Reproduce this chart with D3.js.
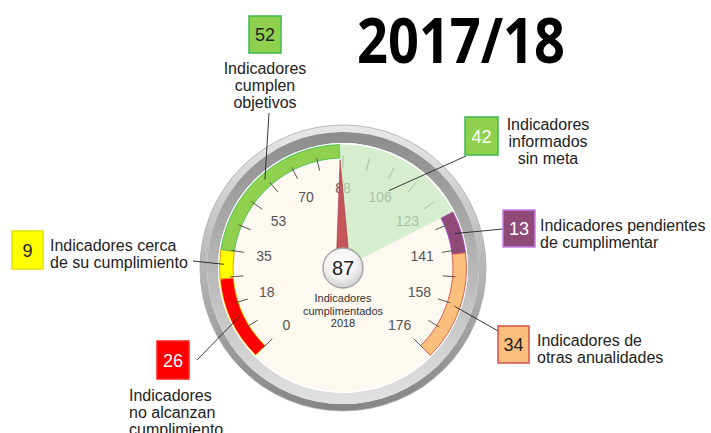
<!DOCTYPE html>
<html>
<head>
<meta charset="utf-8">
<script src="https://cdn.jsdelivr.net/npm/d3@7"></script>
<style>
  body { margin: 0; background: #fff; }
  svg { display: block; }
</style>
</head>
<body>
<div class="gauge-container"></div>
<script>
// data
var categories = [
  ["Indicadores", "no alcanzan", "cumplimiento"],
  ["Indicadores cerca", "de su cumplimiento"],
  ["Indicadores", "cumplen", "objetivos"],
  ["Indicadores", "informados", "sin meta"],
  ["Indicadores pendientes", "de cumplimentar"],
  ["Indicadores de", "otras anualidades"]
];
var values = [26, 9, 52, 42, 13, 34];
var tickLabels = [0, 18, 35, 53, 70, 88, 106, 123, 141, 158, 176];
var needleValue = 87;
var centerLines = ["Indicadores", "cumplimentados", "2018"];
var title = "2017/18";

var colors = ["#ff0000", "#ffff00", "#8fd14f", "#c6eac0", "#904a78", "#fbbf7d"];
var strokes = ["#ffee00", "#f08000", "#3cb94f", "none", "#a24ad0", "#c9423a"];
var boxStrokes = ["#ff2020", "#e8e000", "#3cb94f", "#3cb94f", "#c77ee8", "#d0504a"];
var boxText = ["#fff", "#222", "#222", "#fff", "#fff", "#222"];

// layout of the callouts (box x, y, w, h / text anchor / line start)
var callouts = [
  {box: [157, 341, 32, 38], tx: 129, ty: 395, anchor: "start",  from: [197, 360], r: 114},
  {box: [12, 231, 31, 38],  tx: 50,  ty: 245, anchor: "start",  from: [193, 261], r: 119},
  {box: [249, 16, 32, 37],  tx: 265, ty: 68,  anchor: "middle", from: [269, 113], r: 118},
  {box: [465, 117, 33, 38], tx: 548, ty: 124, anchor: "middle", from: [466, 156], r: 90},
  {box: [503, 210, 32, 37], tx: 540, ty: 225, anchor: "start",  from: [503, 229], r: 117},
  {box: [498, 326, 31, 37], tx: 537, ty: 340, anchor: "start",  from: [498, 331], r: 118}
];

var chart_width = 711;
var chart_height = 433;
var cx = 343, cy = 268;
var font = "'Liberation Sans', Arial, sans-serif";

var total = d3.sum(values);
var ends = d3.cumsum(values);
var starts = ends.map((e, i) => e - values[i]);

// value -> angle (radians, 0 = up, clockwise)
var angle = d3.scaleLinear()
  .domain([0, total])
  .range([-135 * Math.PI / 180, 135 * Math.PI / 180]);

var polar = (a, r) => [cx + r * Math.sin(a), cy - r * Math.cos(a)];

var svg = d3.select('.gauge-container')
  .append('svg')
  .attr('width', chart_width)
  .attr('height', chart_height);

var defs = svg.append('defs');

// bezel: two rings with opposite vertical gradients
var addGrad = (id, top, bottom) => {
  var lg = defs.append('linearGradient')
    .attr('id', id)
    .attr('x1', 0).attr('y1', 0).attr('x2', 0).attr('y2', 1);
  lg.append('stop').attr('offset', 0).attr('stop-color', top);
  lg.append('stop').attr('offset', 1).attr('stop-color', bottom);
};
addGrad('outerRing', '#e8e8e8', '#858585');
addGrad('innerRing', '#8c8c8c', '#e2e2e2');

var knob = defs.append('radialGradient')
  .attr('id', 'knob')
  .attr('cx', '45%').attr('cy', '35%').attr('r', '65%');
knob.append('stop').attr('offset', 0).attr('stop-color', '#ffffff');
knob.append('stop').attr('offset', 0.6).attr('stop-color', '#f2f2f2');
knob.append('stop').attr('offset', 1).attr('stop-color', '#cfcfcf');

var g = svg.append('g').attr('transform', `translate(${cx},${cy})`);

var ring = (r0, r1) => d3.arc().innerRadius(r0).outerRadius(r1)({startAngle: 0, endAngle: 2 * Math.PI});

g.append('path')
  .attr('d', ring(136, 143))
  .attr('fill', 'url(#outerRing)');
g.append('circle')
  .attr('r', 143)
  .attr('fill', 'none')
  .attr('stroke', '#a8a8a8').attr('stroke-width', 0.8);
g.append('path')
  .attr('d', ring(125, 136))
  .attr('fill', 'url(#innerRing)');

// face
g.append('circle')
  .attr('r', 125)
  .attr('fill', '#ffffff');
g.append('circle')
  .attr('r', 123.5)
  .attr('fill', '#fdf8f0');

var bandArc = d3.arc().innerRadius(110).outerRadius(123.5);

// coloured bands (all but "sin meta")
g.selectAll('path.band')
  .data(values.map((v, i) => ({i: i, s: starts[i], e: ends[i]})).filter(d => d.i !== 3))
  .enter()
  .append('path')
  .attr('class', 'band')
  .attr('d', d => bandArc({startAngle: angle(d.s), endAngle: angle(d.e)}))
  .attr('fill', d => colors[d.i])
  .attr('stroke', d => strokes[d.i])
  .attr('stroke-width', 0.8);

// tick labels
g.selectAll('text.tick')
  .data(tickLabels)
  .enter()
  .append('text')
  .attr('class', 'tick')
  .attr('x', d => 80 * Math.sin(angle(d)))
  .attr('y', d => -80 * Math.cos(angle(d)) + 5)
  .attr('text-anchor', 'middle')
  .attr('font-family', font)
  .attr('font-size', 14)
  .attr('fill', '#555')
  .text(d => d);

// ticks every half step
var tickVals = d3.range(0, 21).map(i => i * total / 20);
g.selectAll('line.tk')
  .data(tickVals)
  .enter()
  .append('line')
  .attr('class', 'tk')
  .attr('x1', d => 100 * Math.sin(angle(d)))
  .attr('y1', d => -100 * Math.cos(angle(d)))
  .attr('x2', d => 113 * Math.sin(angle(d)))
  .attr('y2', d => -113 * Math.cos(angle(d)))
  .attr('stroke', '#555')
  .attr('stroke-width', 1);

// "sin meta" wedge over the face
g.append('path')
  .attr('d', d3.arc().innerRadius(0).outerRadius(123.5)({startAngle: angle(starts[3]), endAngle: angle(ends[3])}))
  .attr('fill', colors[3])
  .attr('opacity', 0.72);

// needle
var na = angle(needleValue);
var needle = [
  [7 * Math.cos(na), 7 * Math.sin(na)],
  [108 * Math.sin(na), -108 * Math.cos(na)],
  [-7 * Math.cos(na), -7 * Math.sin(na)]
];
g.append('path')
  .attr('d', d3.line()(needle) + 'Z')
  .attr('fill', '#c4545a')
  .attr('stroke', '#a83a40')
  .attr('stroke-width', 0.6);

g.append('circle')
  .attr('r', 20)
  .attr('fill', 'url(#knob)')
  .attr('stroke', '#a0a0a0')
  .attr('stroke-width', 1.3);

g.append('text')
  .attr('y', 7)
  .attr('text-anchor', 'middle')
  .attr('font-family', font)
  .attr('font-size', 20)
  .attr('fill', '#222')
  .text(needleValue);

g.selectAll('text.cl')
  .data(centerLines)
  .enter()
  .append('text')
  .attr('class', 'cl')
  .attr('y', (d, i) => 34 + i * 12.5)
  .attr('text-anchor', 'middle')
  .attr('font-family', font)
  .attr('font-size', 11)
  .attr('fill', '#333')
  .text(d => d);

// callouts
callouts.forEach((c, i) => {
  var mid = angle((starts[i] + ends[i]) / 2);
  var end = polar(mid, c.r);
  svg.append('line')
    .attr('x1', c.from[0]).attr('y1', c.from[1])
    .attr('x2', end[0]).attr('y2', end[1])
    .attr('stroke', '#222')
    .attr('stroke-width', 0.9);

  svg.append('rect')
    .attr('x', c.box[0]).attr('y', c.box[1])
    .attr('width', c.box[2]).attr('height', c.box[3])
    .attr('fill', i === 3 ? colors[2] : colors[i])
    .attr('stroke', boxStrokes[i])
    .attr('stroke-width', 1.5);

  svg.append('text')
    .attr('x', c.box[0] + c.box[2] / 2)
    .attr('y', c.box[1] + c.box[3] / 2 + 6.5)
    .attr('text-anchor', 'middle')
    .attr('font-family', font)
    .attr('font-size', 18)
    .attr('fill', boxText[i])
    .text(values[i]);

  svg.selectAll(null)
    .data(categories[i])
    .enter()
    .append('text')
    .attr('x', c.tx)
    .attr('y', (d, j) => c.ty + j * 17 + 5.5)
    .attr('text-anchor', c.anchor)
    .attr('font-family', font)
    .attr('font-size', 16)
    .attr('fill', '#222')
    .text(d => d);
});

// title
svg.append('text')
  .attr('x', 461)
  .attr('y', 63)
  .attr('text-anchor', 'middle')
  .attr('font-family', "'Open Sans', 'Noto Sans', sans-serif")
  .attr('font-weight', 'bold')
  .attr('font-size', 63)
  .attr('textLength', 208)
  .attr('lengthAdjust', 'spacingAndGlyphs')
  .attr('fill', '#000')
  .text(title);
</script>
</body>
</html>
